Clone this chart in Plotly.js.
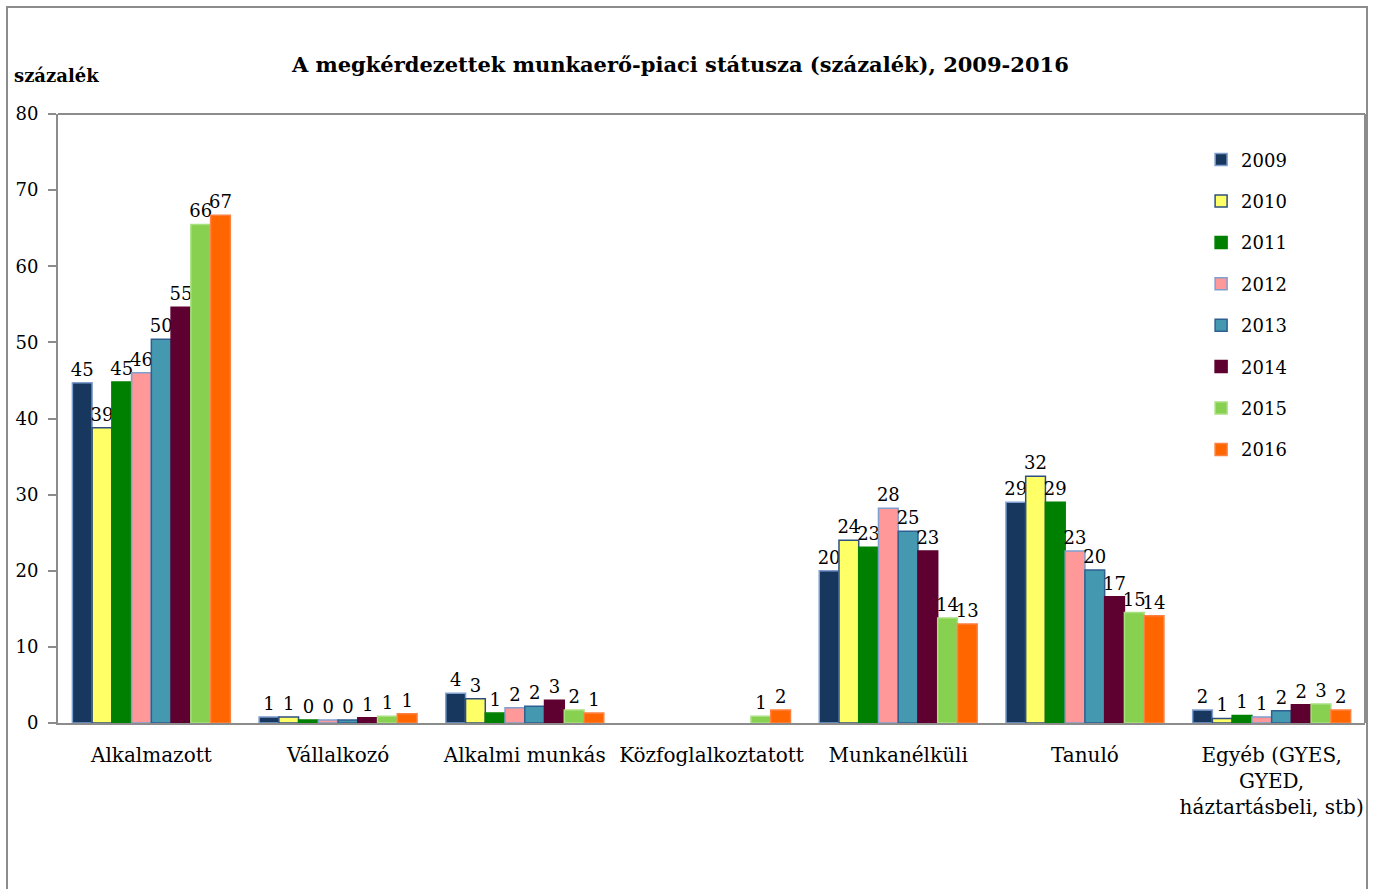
<!DOCTYPE html>
<html><head><meta charset="utf-8">
<script src="https://cdn.plot.ly/plotly-3.0.1.min.js"></script>
<style>html,body{margin:0;padding:0;background:#fff;}
#wrap{position:relative;width:1373px;height:889px;overflow:hidden;}
#frame{position:absolute;left:6px;top:6px;width:1358px;height:900px;border:2px solid #8c8c8c;pointer-events:none;z-index:5;}
#chart{position:absolute;left:0;top:0;width:1373px;height:889px;}
</style></head>
<body><div id="wrap"><div id="chart"></div><div id="frame"></div></div>
<script>
const categories = ["Alkalmazott","Vállalkozó","Alkalmi munkás","Közfoglalkoztatott","Munkanélküli","Tanuló","Egyéb (GYES,<br>GYED,<br>háztartásbeli, stb)"];
const years = ["2009","2010","2011","2012","2013","2014","2015","2016"];
const v2009 = [44.7, 0.8, 3.9, null, 20.0, 29.0, 1.7];
const v2010 = [38.8, 0.8, 3.2, null, 24.0, 32.4, 0.6];
const v2011 = [44.8, 0.4, 1.3, null, 23.1, 29.0, 1.0];
const v2012 = [46.0, 0.4, 2.0, null, 28.2, 22.6, 0.8];
const v2013 = [50.4, 0.4, 2.2, null, 25.2, 20.1, 1.6];
const v2014 = [54.6, 0.7, 3.0, null, 22.6, 16.6, 2.4];
const v2015 = [65.5, 0.9, 1.7, 0.9, 13.8, 14.5, 2.5];
const v2016 = [66.7, 1.2, 1.3, 1.7, 13.0, 14.1, 1.7];
const series = [v2009,v2010,v2011,v2012,v2013,v2014,v2015,v2016];
const colors = ["#17375E","#FFFF66","#008000","#FF9999","#4499B0","#5E0030","#88D050","#FF6600"];
const borders = ["#7F9FCF","#2F4F7F","#008000","#7F9FCF","#2F5F8F","#5E0030","#A8E080","#FF8040"];
const serif = "DejaVu Serif, serif";
const traces = series.map((vals,i)=>({
  type:'bar', name:years[i], x:categories, y:vals,
  marker:{color:colors[i], line:{color:borders[i], width:1.5}},
  text: vals.map(v=> v==null? '' : Math.round(v).toString()),
  textposition:'outside', cliponaxis:false, constraintext:'none',
  textfont:{family:serif, size:18, color:'#000'},
  legendgroup:'g'+i, hoverinfo:'x+y+name'
}));
const layout = {
  width:1373, height:889,
  margin:{l:58, r:8, t:114, b:166},
  paper_bgcolor:'#fff', plot_bgcolor:'#fff',
  barmode:'group', bargap:0.154, bargroupgap:0,
  showlegend:true,
  title:{text:'<b>A megkérdezettek munkaerő-piaci státusza (százalék), 2009-2016</b>', font:{family:serif, size:21, color:'#000'}, x:0.4955, xanchor:'center', y:0.927, yanchor:'middle'},
  xaxis:{showline:true, linecolor:'#8c8c8c', linewidth:2, ticks:'', tickfont:{family:serif, size:20, color:'#000'}, ticklabelstandoff:13, fixedrange:true},
  yaxis:{range:[0,80], dtick:10, showgrid:false, zeroline:false, showline:true, linecolor:'#8c8c8c', linewidth:2, ticks:'outside', ticklen:8, tickcolor:'#8c8c8c', tickwidth:2, tickfont:{family:serif, size:18, color:'#000'}, ticklabelstandoff:6},
  legend:{x:0.8746, y:0.955, xanchor:'left', yanchor:'top', font:{family:serif, size:18, color:'#000'}, traceorder:'grouped', tracegroupgap:15, bgcolor:'rgba(0,0,0,0)', itemwidth:30},
  shapes:[
    {type:'line', xref:'paper', yref:'paper', x0:0, x1:1, y0:1, y1:1, line:{color:'#8c8c8c', width:2}},
    {type:'line', xref:'paper', yref:'paper', x0:1, x1:1, y0:0, y1:1, line:{color:'#8c8c8c', width:2}}
  ],
  annotations:[
    {text:'<b>százalék</b>', xref:'paper', yref:'paper', x:-0.035, y:1.064, xanchor:'left', yanchor:'middle', showarrow:false, font:{family:serif, size:18, color:'#000'}}
  ]
};
Plotly.newPlot('chart', traces, layout, {displayModeBar:false, staticPlot:true});
</script></body></html>
